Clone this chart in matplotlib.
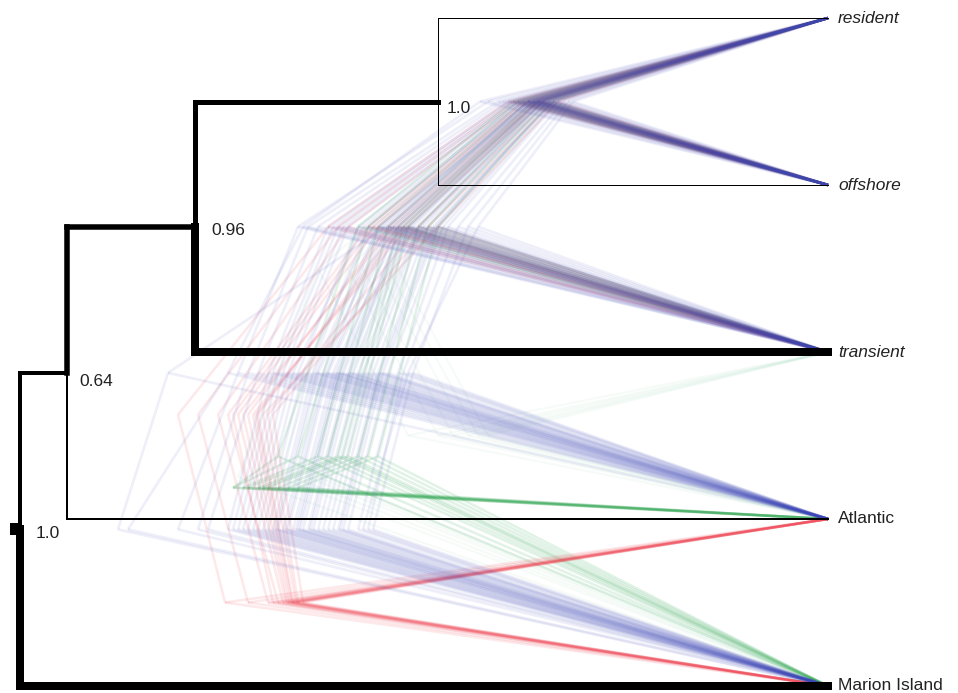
import numpy as np
import matplotlib.pyplot as plt
from matplotlib.collections import LineCollection

plt.rcParams['font.family'] = ['Liberation Sans', 'DejaVu Sans']

# tips, top to bottom
tips = ["resident", "offshore", "transient", "Atlantic", "Marion Island"]
tip_italic = [True, True, True, False, False]

# topologies (nested tuples of tip indices), internal nodes in postorder
topo_blue = ((((0, 1), 2), 3), 4)      # most frequent
topo_red = (((0, 1), 2), (3, 4))
topo_green = ((((0, 1), 2), 4), 3)
topo_other = (((0, 1), (2, 3)), 4)

# sampled node ages (time before present), one list per internal node
blue_ro = [2.85, 2.95, 3.05, 2.75, 2.90, 3.10, 2.80, 3.00, 2.70, 3.20, 2.88, 2.98, 3.08, 2.78,
           2.92, 3.15, 2.65, 3.30, 2.85, 2.95, 3.02, 2.72, 2.90, 3.12, 2.82, 3.40, 2.60, 3.00,
           2.86, 2.96, 3.06, 2.76, 2.94, 3.18, 2.84, 3.25, 2.55, 3.48, 2.90, 3.00]
blue_rot = [4.10, 4.35, 4.60, 3.95, 4.25, 4.80, 4.05, 4.45, 3.80, 5.00, 4.15, 4.40, 4.70, 3.90,
            4.30, 4.90, 3.70, 5.20, 4.20, 4.50, 4.55, 3.85, 4.28, 4.85, 4.00, 5.30, 3.60, 4.48,
            4.18, 4.38, 4.65, 3.92, 4.32, 4.95, 4.08, 5.10, 3.50, 5.25, 4.22, 4.42]
blue_rota = [4.70, 5.00, 5.20, 4.50, 4.90, 5.40, 4.60, 5.05, 4.30, 5.60, 4.75, 5.10, 5.30, 4.45,
             4.95, 5.50, 4.25, 5.80, 4.85, 5.15, 5.25, 4.40, 4.80, 5.45, 4.55, 5.90, 4.15, 5.12,
             4.78, 5.02, 5.35, 4.48, 4.92, 5.55, 4.65, 5.70, 4.20, 6.00, 4.88, 6.60]
blue_root = [5.10, 5.40, 5.60, 4.90, 5.30, 5.80, 5.00, 5.45, 4.70, 6.00, 5.15, 5.50, 5.70, 4.85,
             5.35, 5.90, 4.60, 6.30, 5.25, 5.55, 5.65, 4.80, 5.20, 5.85, 4.95, 6.50, 4.55, 5.52,
             5.18, 5.42, 5.75, 4.88, 5.32, 5.95, 5.05, 6.20, 4.65, 7.00, 5.28, 7.10]

red_ro = [2.90, 3.00, 2.80, 3.10, 2.95, 2.75, 3.05, 2.85, 3.15, 2.92, 2.70, 3.02, 2.88, 3.20]
red_rot = [4.30, 4.50, 4.10, 4.80, 4.40, 4.00, 4.60, 4.20, 4.90, 4.35, 3.90, 4.55, 4.25, 5.00]
red_am = [5.35, 5.45, 5.30, 5.60, 5.40, 5.25, 5.50, 5.38, 5.80, 5.42, 5.32, 5.55, 5.36, 6.03]
red_root = [5.70, 5.90, 5.60, 6.10, 5.80, 5.55, 6.00, 5.75, 6.30, 5.85, 5.65, 5.95, 5.72, 6.50]

green_ro = [2.90, 3.00, 2.80, 3.10, 2.95, 2.85, 3.05, 2.75, 2.92, 3.15]
green_rot = [4.20, 4.40, 4.00, 4.60, 4.30, 4.10, 4.50, 3.90, 4.25, 4.70]
green_rotm = [4.80, 5.00, 4.60, 5.30, 4.90, 4.70, 5.10, 4.50, 4.85, 5.50]
green_root = [5.60, 5.80, 5.40, 5.95, 5.70, 5.50, 5.85, 5.30, 5.65, 5.95]

other_ro = [2.90, 3.00, 2.80, 3.10, 2.95, 2.85]
other_ta = [3.60, 3.90, 3.40, 4.20, 3.75, 3.50]
other_rota = [4.50, 4.80, 4.30, 5.10, 4.65, 4.40]
other_root = [5.20, 5.50, 5.00, 5.90, 5.35, 5.10]

# consensus tree: node ages and clade supports (postorder of topo_blue)
cons_ages = [3.90, 6.33, 7.61, 8.08]
cons_support = ["1.0", "0.96", "0.64", "1.0"]


def walk(node, ages, count, segs):
    if isinstance(node, int):
        return float(node), 0.0
    kids = [walk(c, ages, count, segs) for c in node]
    y = np.mean([k[0] for k in kids])
    a = ages[count[0]]
    count[0] += 1
    for ky, ka in kids:
        segs.append([(a, y), (ka, ky)])
    return y, a


def tree_segments(topo, node_lists):
    segs = []
    for ages in zip(*node_lists):
        walk(topo, ages, [0], segs)
    return segs


fig = plt.figure(figsize=(9.58, 6.93), dpi=100)
ax = fig.add_axes([0, 0, 1, 1])
ax.set_xlim(8.28, -1.30)
ax.set_ylim(4.042, -0.108)
ax.axis('off')

sets = [
    (topo_other, [other_ro, other_ta, other_rota, other_root], '#8fd6b0', 0.08, 1.6),
    (topo_green, [green_ro, green_rot, green_rotm, green_root], '#1a9e40', 0.13, 1.8),
    (topo_red, [red_ro, red_rot, red_am, red_root], '#f03040', 0.11, 1.8),
    (topo_blue, [blue_ro, blue_rot, blue_rota, blue_root], '#3c46b8', 0.085, 1.9),
]
for topo, lists, col, alpha, lw in sets:
    lc = LineCollection(tree_segments(topo, lists), colors=col, alpha=alpha,
                        linewidths=lw, zorder=1)
    ax.add_collection(lc)

# consensus tree, rectangular, edge widths (px) in postorder of edges
edge_px = [1, 1, 5, 8, 5.5, 2, 4, 8]
edges = []
walk(topo_blue, cons_ages, [0], edges)
for (seg, px) in zip(edges, edge_px):
    (a, y), (ka, ky) = seg
    lw = px * 0.72
    ax.plot([a, a], [y, ky], color='black', lw=lw, solid_capstyle='projecting', zorder=3)
    ax.plot([a, ka], [ky, ky], color='black', lw=lw, solid_capstyle='projecting', zorder=3)

# root stub
root_y = 3.0625
ax.plot([cons_ages[3] + 0.10, cons_ages[3]], [root_y, root_y], color='black', lw=12 * 0.72,
        solid_capstyle='butt', zorder=3)

# support labels
node_y = [0.5, 1.25, 2.125, 3.0625]
offs = [(6, -5), (12, -3), (9, -6), (11, -3)]
for a, y, s, o in zip(cons_ages, node_y, cons_support, offs):
    ax.annotate(s, (a, y), xytext=o, textcoords='offset points', fontsize=12.5,
                ha='left', va='center', color='#222222', zorder=4)

# tip labels
for i, (name, it) in enumerate(zip(tips, tip_italic)):
    ax.text(-0.10, i, name, fontsize=12.5, ha='left', va='center', color='#222222',
            style='italic' if it else 'normal')

fig.savefig("out.png", dpi=100)
